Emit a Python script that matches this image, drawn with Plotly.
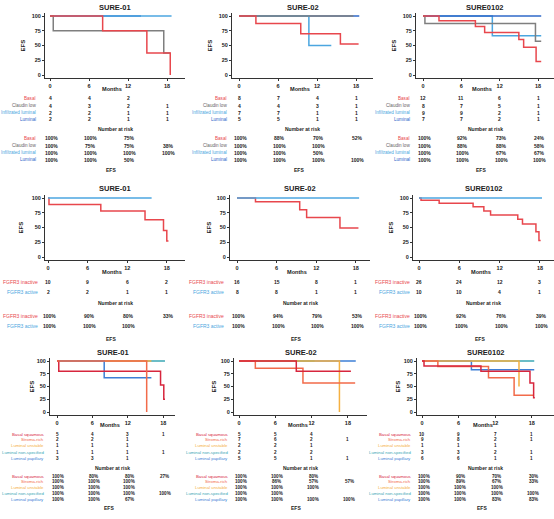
import plotly.graph_objects as go

W, H = 554, 519
FONT = "Liberation Sans"

def X(px):
    return px / W

def Y(py):
    return 1 - py / H

# ---------------- groups & colours ----------------
CLASS_NAMES = ["Basal", "Claudin low", "Infiltrated luminal", "Luminal"]
CLASS_COLORS = ["#e8474d", "#7f7f7f", "#4ba6e0", "#2f68c8"]
CLASS_LABEL_COLORS = ["#e8474d", "#666666", "#4ba6e0", "#2f68c8"]

FGFR_NAMES = ["FGFR3 inactive", "FGFR3 active"]
FGFR_COLORS = ["#e8474d", "#4ba6e0"]

CONS_NAMES = ["Basal squamous", "Stroma-rich", "Luminal unstable",
              "Luminal non-specified", "Luminal papillary"]
CONS_COLORS = ["#d7263d", "#f26b4a", "#f5b041", "#3aa7b5", "#3d7fd6"]

TIMES = [0, 6, 12, 18]

# ---------------- SURE-01 (classifier) ----------------
p1_t = [[0, 8.1, 14.9, 18.5], [0, 0.5, 17.5, 18.5], [0, 18.7], [0, 14.0]]
p1_s = [[100, 75, 37.5, 0], [100, 75, 37.5, 37.5], [100, 100], [100, 100]]
p1_risk = [["4", "4", "2", ""], ["4", "3", "2", "1"], ["2", "2", "1", "1"], ["2", "2", "1", "1"]]
p1_efs = [["100%", "100%", "75%", ""], ["100%", "75%", "75%", "38%"],
          ["100%", "100%", "100%", "100%"], ["100%", "100%", "50%", ""]]

# ---------------- SURE-02 (classifier) ----------------
p2_t = [[0, 2.6, 9.5, 15.6, 18.4], [0, 17.6], [0, 10.75, 14.2], [0, 18.5]]
p2_s = [[100, 87.5, 70, 52.5, 52.5], [100, 100], [100, 50, 50], [100, 100]]
p2_risk = [["8", "7", "4", "1"], ["4", "4", "3", "1"], ["7", "7", "1", "1"], ["5", "5", "1", "1"]]
p2_efs = [["100%", "88%", "70%", "52%"], ["100%", "100%", "100%", ""],
          ["100%", "100%", "50%", ""], ["100%", "100%", "100%", "100%"]]

# ---------------- SURE0102 (classifier) ----------------
p3_t = [[0, 2.5, 8.2, 9.65, 15.0, 15.75, 17.7, 18.5], [0, 0.3, 17.6, 18.5],
        [0, 10.85, 18.5], [0, 18.5]]
p3_s = [[100, 92, 82, 72, 60, 47, 23, 23], [100, 87.5, 57, 57],
        [100, 66.7, 66.7], [100, 100]]
p3_risk = [["12", "11", "6", "1"], ["8", "7", "5", "1"], ["9", "9", "2", "1"], ["7", "7", "2", "1"]]
p3_efs = [["100%", "92%", "73%", "24%"], ["100%", "88%", "88%", "58%"],
          ["100%", "100%", "67%", "67%"], ["100%", "100%", "100%", "100%"]]

# ---------------- SURE-01 (FGFR3) ----------------
p4_t = [[0, 0.15, 8.0, 14.7, 17.5, 18.0, 18.25], [0, 15.7]]
p4_s = [[100, 89, 78, 63, 45, 27, 27], [100, 100]]
p4_risk = [["10", "9", "6", "2"], ["2", "2", "1", "1"]]
p4_efs = [["100%", "90%", "80%", "33%"], ["100%", "100%", "100%", ""]]

# ---------------- SURE-02 (FGFR3) ----------------
p5_t = [[0, 2.8, 9.5, 10.55, 15.6, 18.4], [0, 18.5]]
p5_s = [[100, 93.75, 80, 67, 49, 49], [100, 100]]
p5_risk = [["16", "15", "8", "1"], ["8", "8", "1", "1"]]
p5_efs = [["100%", "94%", "79%", "53%"], ["100%", "100%", "100%", "100%"]]

# ---------------- SURE0102 (FGFR3) ----------------
p6_t = [[0, 0.3, 3.0, 8.05, 9.65, 10.65, 14.7, 15.4, 17.4, 17.85, 18.1], [0, 18.3]]
p6_s = [[100, 96, 91, 85, 78, 71, 64, 56, 43, 28, 28], [100, 100]]
p6_risk = [["26", "24", "12", "3"], ["10", "10", "4", "1"]]
p6_efs = [["100%", "92%", "76%", "39%"], ["100%", "100%", "100%", "100%"]]

# ---------------- SURE-01 (consensus) ----------------
p7_t = [[0, 0.3, 17.55, 18.1, 18.3], [0, 15.2], [0, 16.0], [0, 18.3], [0, 8.0, 16.0]]
p7_s = [[100, 80, 53, 25, 25], [100, 0], [100, 100], [100, 100], [100, 67, 67]]
p7_risk = [["5", "4", "3", "1"], ["2", "2", "1", ""], ["1", "1", "1", ""],
           ["1", "1", "1", "1"], ["3", "3", "1", ""]]
p7_efs = [["100%", "80%", "80%", "27%"], ["100%", "100%", "100%", ""],
          ["100%", "100%", "100%", ""], ["100%", "100%", "100%", "100%"],
          ["100%", "100%", "67%", ""]]

# ---------------- SURE-02 (consensus) ----------------
p8_t = [[0, 9.47, 18.5], [0, 2.7, 10.57, 19.2], [0, 16.6], [0, 12.5], [0, 19.3]]
p8_s = [[100, 80, 80], [100, 86, 57, 57], [100, 0], [100, 100], [100, 100]]
p8_risk = [["5", "5", "4", ""], ["7", "6", "2", "1"], ["2", "2", "1", ""],
           ["2", "2", "2", ""], ["5", "5", "1", "1"]]
p8_efs = [["100%", "100%", "80%", ""], ["100%", "86%", "57%", "57%"],
          ["100%", "100%", "100%", ""], ["100%", "100%", "", ""],
          ["100%", "100%", "100%", "100%"]]

# ---------------- SURE0102 (consensus) ----------------
p9_t = [[0, 0.33, 9.66, 17.7, 18.3, 18.5], [0, 2.6, 10.9, 15.1, 18.3], [0, 15.9],
        [0, 18.4], [0, 8.1, 18.4]]
p9_s = [[100, 90, 80, 57, 28, 28], [100, 89, 67, 33, 33], [100, 50],
        [100, 100], [100, 83, 83]]
p9_risk = [["10", "9", "7", "1"], ["9", "8", "2", "1"], ["1", "1", "1", ""],
           ["3", "3", "2", "1"], ["6", "6", "1", "1"]]
p9_efs = [["100%", "90%", "70%", "30%"], ["100%", "89%", "67%", "33%"],
          ["100%", "100%", "100%", ""], ["100%", "100%", "100%", "100%"],
          ["100%", "100%", "83%", "83%"]]

# ---------------- layout geometry (pixels) ----------------
ROWS = {
    1: dict(title=7.3, top=13, bot=78, y100=16, y0=75, months=89,
            risk=[98.3, 105.7, 112.7, 119.3], nar=129.3,
            efs=[138.3, 145.7, 152.7, 160.0], efslab=170, fs=5.0, lfs=4.6),
    2: dict(title=188.3, top=195, bot=260, y100=198, y0=257, months=272,
            risk=[282, 292.3], nar=303.3, efs=[315.7, 325.7], efslab=339, fs=5.0, lfs=5.0),
    3: dict(title=352.7, top=358, bot=415, y100=361, y0=412, months=425,
            risk=[434, 439.5, 445.3, 452, 458.3], nar=467.7,
            efs=[476, 481.5, 487.3, 493.3, 499.3], efslab=508.3, fs=4.6, lfs=4.3),
}

panels = [
    dict(title="SURE-01", row=1, left=45, right=185, px0=50, ppm=6.5, lab=38, efsx=22,
         names=CLASS_NAMES, colors=CLASS_COLORS, lcolors=CLASS_LABEL_COLORS,
         t=p1_t, s=p1_s, order=[3, 2, 1, 0], risk=p1_risk, efs=p1_efs),
    dict(title="SURE-02", row=1, left=232, right=373, px0=239, ppm=6.5, lab=229, efsx=209,
         names=CLASS_NAMES, colors=CLASS_COLORS, lcolors=CLASS_LABEL_COLORS,
         t=p2_t, s=p2_s, order=[3, 2, 1, 0], risk=p2_risk, efs=p2_efs),
    dict(title="SURE0102", row=1, left=416, right=554, px0=423, ppm=6.39, lab=412, efsx=393,
         names=CLASS_NAMES, colors=CLASS_COLORS, lcolors=CLASS_LABEL_COLORS,
         t=p3_t, s=p3_s, order=[2, 3, 1, 0], risk=p3_risk, efs=p3_efs),
    dict(title="SURE-01", row=2, left=45, right=185, px0=48, ppm=6.6, lab=40, efsx=20,
         names=FGFR_NAMES, colors=FGFR_COLORS, lcolors=FGFR_COLORS,
         t=p4_t, s=p4_s, order=[0, 1], risk=p4_risk, efs=p4_efs),
    dict(title="SURE-02", row=2, left=230, right=370, px0=237, ppm=6.6, lab=226, efsx=208,
         names=FGFR_NAMES, colors=FGFR_COLORS, lcolors=FGFR_COLORS,
         t=p5_t, s=p5_s, order=[0, 1], risk=p5_risk, efs=p5_efs),
    dict(title="SURE0102", row=2, left=413, right=554, px0=419, ppm=6.72, lab=412, efsx=390,
         names=FGFR_NAMES, colors=FGFR_COLORS, lcolors=FGFR_COLORS,
         t=p6_t, s=p6_s, order=[0, 1], risk=p6_risk, efs=p6_efs),
    dict(title="SURE-01", row=3, left=50, right=175, px0=57, ppm=5.9, lab=46, efsx=31,
         names=CONS_NAMES, colors=CONS_COLORS, lcolors=CONS_COLORS,
         t=p7_t, s=p7_s, order=[3, 2, 4, 0, 1], risk=p7_risk, efs=p7_efs),
    dict(title="SURE-02", row=3, left=234, right=367, px0=239, ppm=6.05, lab=230, efsx=213,
         names=CONS_NAMES, colors=CONS_COLORS, lcolors=CONS_COLORS,
         t=p8_t, s=p8_s, order=[4, 3, 2, 1, 0], risk=p8_risk, efs=p8_efs),
    dict(title="SURE0102", row=3, left=417, right=554, px0=422, ppm=6.1, lab=413, efsx=397,
         names=CONS_NAMES, colors=CONS_COLORS, lcolors=CONS_COLORS,
         t=p9_t, s=p9_s, order=[3, 4, 2, 1, 0], risk=p9_risk, efs=p9_efs),
]

fig = go.Figure()
annotations = []
layout_axes = {}
TXT = "#222222"

def ann(x, y, text, size, color=TXT, xref="paper", xanchor="center", bold=False, angle=0):
    annotations.append(dict(
        x=x, y=y, xref=xref, yref="paper", text=text, showarrow=False,
        xanchor=xanchor, yanchor="middle", textangle=angle,
        font=dict(family=FONT, size=size, color=color, weight="bold" if bold else "normal"),
    ))

for i, p in enumerate(panels, start=1):
    r = ROWS[p["row"]]
    ppu = (r["y0"] - r["y100"]) / 100.0
    yr = [-(r["bot"] - r["y0"]) / ppu, 100 + (r["y100"] - r["top"]) / ppu]
    xr = [(p["left"] - p["px0"]) / p["ppm"], (p["right"] - p["px0"]) / p["ppm"]]
    xa = "xaxis" if i == 1 else f"xaxis{i}"
    ya = "yaxis" if i == 1 else f"yaxis{i}"
    xid = "x" if i == 1 else f"x{i}"
    yid = "y" if i == 1 else f"y{i}"
    axis_common = dict(showline=True, linecolor="#333333", linewidth=1, ticks="outside",
                       ticklen=2, tickwidth=1, tickcolor="#333333", showgrid=False,
                       zeroline=False, tickfont=dict(family=FONT, size=5.5, color=TXT, weight="bold"),
                       fixedrange=True)
    layout_axes[xa] = dict(axis_common, domain=[X(p["left"]), X(p["right"])], range=xr,
                           tickvals=TIMES, anchor=yid)
    layout_axes[ya] = dict(axis_common, domain=[Y(r["bot"]), Y(r["top"])], range=yr,
                           tickvals=[0, 25, 50, 75, 100], anchor=xid)

    for g in p["order"]:
        fig.add_trace(go.Scatter(
            x=p["t"][g], y=p["s"][g], mode="lines", xaxis=xid, yaxis=yid,
            line=dict(color=p["colors"][g], width=1.5, shape="hv"),
            showlegend=False, hoverinfo="skip"))

    cx = (p["left"] + p["right"]) / 2
    ann(X(cx), Y(r["title"]), p["title"], 7.5, bold=True)
    ann(X(p["efsx"]), Y((r["y100"] + r["y0"]) / 2), "EFS", 6, bold=True, angle=-90)
    ann(X(cx - 3), Y(r["months"]), "Months", 5.6, bold=True)
    ann(X(cx), Y(r["nar"]), "Number at risk", 5.0, bold=True)
    ann(X(cx - 4), Y(r["efslab"]), "EFS", 5.0, bold=True)

    fs = r["fs"]
    lfs = r["lfs"]
    for g, name in enumerate(p["names"]):
        ann(X(p["lab"]), Y(r["risk"][g]), name, lfs, color=p["lcolors"][g], xanchor="right")
        ann(X(p["lab"]), Y(r["efs"][g]), name, lfs, color=p["lcolors"][g], xanchor="right")
        for k, tm in enumerate(TIMES):
            if p["risk"][g][k]:
                ann(tm, Y(r["risk"][g]), p["risk"][g][k], fs, xref=xid, bold=True)
            if p["efs"][g][k]:
                ann(tm + 0.25, Y(r["efs"][g]), p["efs"][g][k], fs, xref=xid, bold=True)

fig.update_layout(
    width=W, height=H, margin=dict(l=0, r=0, t=0, b=0),
    paper_bgcolor="white", plot_bgcolor="white",
    annotations=annotations, showlegend=False,
    font=dict(family=FONT),
    **layout_axes,
)

fig.write_html("out.html")
